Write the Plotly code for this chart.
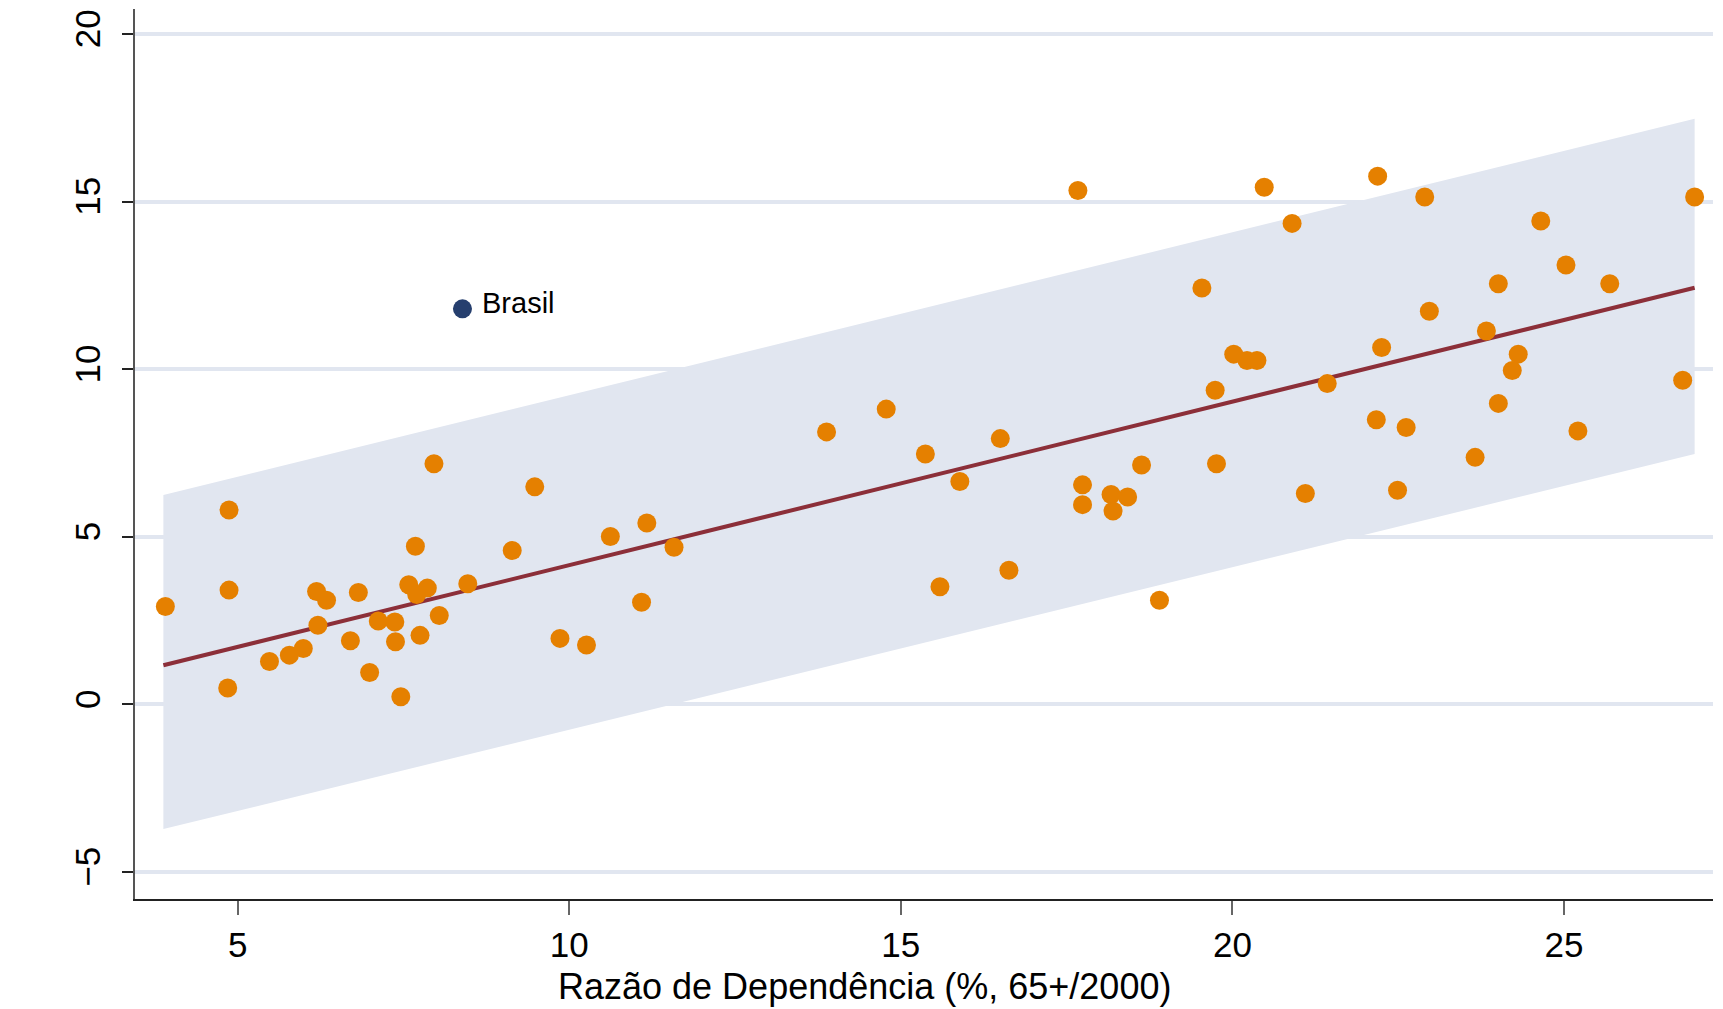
import plotly.graph_objects as go

# Data
dep_ratio = [3.91, 4.87, 4.87, 4.85, 5.48, 5.78, 5.99, 6.19, 6.34, 6.21, 6.70, 6.82, 6.99, 7.12,
             7.37, 7.38, 7.46, 7.58, 7.68, 7.70, 7.75, 7.86, 7.96, 8.04, 8.47, 9.14, 9.48, 9.86,
             10.26, 10.62, 11.09, 11.17, 11.58, 13.88, 14.78, 15.37, 15.59, 15.89, 16.50, 16.63,
             17.67, 17.74, 17.74, 18.17, 18.20, 18.42, 18.63, 18.90, 19.54, 19.74, 19.76, 20.02,
             20.22, 20.37, 20.48, 20.90, 21.10, 21.43, 22.17, 22.19, 22.25, 22.49, 22.62, 22.90,
             22.97, 23.66, 23.83, 24.01, 24.01, 24.22, 24.31, 24.65, 25.03, 25.21, 25.69, 26.79,
             26.97]
y_values = [2.92, 5.80, 3.41, 0.49, 1.28, 1.47, 1.67, 3.37, 3.11, 2.36, 1.90, 3.34, 0.95, 2.49,
            2.46, 1.87, 0.23, 3.57, 4.72, 3.28, 2.06, 3.47, 7.18, 2.65, 3.60, 4.59, 6.49, 1.97,
            1.77, 5.01, 3.05, 5.41, 4.69, 8.13, 8.81, 7.47, 3.51, 6.65, 7.93, 4.00,
            15.33, 6.55, 5.96, 6.26, 5.77, 6.19, 7.14, 3.11, 12.42, 9.37, 7.18, 10.45,
            10.26, 10.26, 15.43, 14.35, 6.29, 9.57, 8.49, 15.76, 10.65, 6.39, 8.26, 15.14,
            11.73, 7.37, 11.14, 12.55, 8.98, 9.96, 10.45, 14.42, 13.11, 8.16, 12.55, 9.67,
            15.14]

brasil_x = [8.39]
brasil_y = [11.80]
brasil_label = "Brasil"

fit_x = [3.88, 26.97]
fit_y = [1.17, 12.43]
band_upper = [6.25, 17.47]
band_lower = [-3.72, 7.47]

x_ticks = [5, 10, 15, 20, 25]
y_ticks = [-5, 0, 5, 10, 15, 20]
x_title = "Razão de Dependência (%, 65+/2000)"

FONT = "Liberation Sans, Arial, sans-serif"
BAND = "#E1E6F0"

fig = go.Figure()

# prediction band
fig.add_trace(go.Scatter(
    x=fit_x + fit_x[::-1], y=band_upper + band_lower[::-1],
    fill="toself", fillcolor=BAND, line=dict(width=0), mode="lines",
    hoverinfo="skip", showlegend=False))

# fitted line
fig.add_trace(go.Scatter(
    x=fit_x, y=fit_y, mode="lines",
    line=dict(color="#8C2F39", width=4), showlegend=False))

# countries
fig.add_trace(go.Scatter(
    x=dep_ratio, y=y_values, mode="markers",
    marker=dict(color="#E58000", size=19, line=dict(width=0)),
    showlegend=False))

# Brasil
fig.add_trace(go.Scatter(
    x=brasil_x, y=brasil_y, mode="markers",
    marker=dict(color="#263F6E", size=19, line=dict(width=0)),
    showlegend=False))

fig.add_annotation(x=brasil_x[0], y=brasil_y[0], text=brasil_label, showarrow=False,
                   xanchor="left", yanchor="middle", xshift=18, yshift=6,
                   font=dict(family=FONT, size=29, color="#000000"))

# x-axis title (placed slightly left of centre, as in the reference)
fig.add_annotation(x=0.462, y=-0.098, xref="paper", yref="paper", text=x_title,
                   showarrow=False, xanchor="center", yanchor="middle",
                   font=dict(family=FONT, size=36, color="#000000"))

# page body adds an 8px offset, so the figure is sized to fit the window
fig.update_layout(
    width=1715, height=1001,
    margin=dict(l=127, r=10, t=1, b=110),
    paper_bgcolor="white", plot_bgcolor="white",
    font=dict(family=FONT, color="#000000"),
)

fig.update_xaxes(
    range=[3.452, 27.247], tickvals=x_ticks, automargin=False,
    ticks="outside", ticklen=14, tickwidth=2, tickcolor="#666666",
    showline=True, linecolor="#222222", linewidth=2,
    showgrid=False, zeroline=False,
    tickfont=dict(family=FONT, size=35),
)
fig.update_yaxes(
    range=[-5.805, 20.746], tickvals=y_ticks, automargin=False,
    ticks="outside", ticklen=11, tickwidth=2, tickcolor="#222222",
    showline=True, linecolor="#555555", linewidth=2,
    showgrid=True, gridcolor=BAND, gridwidth=4, zeroline=False,
    tickangle=-90, tickfont=dict(family=FONT, size=35), ticklabelstandoff=8,
)

fig.write_html("out.html")
